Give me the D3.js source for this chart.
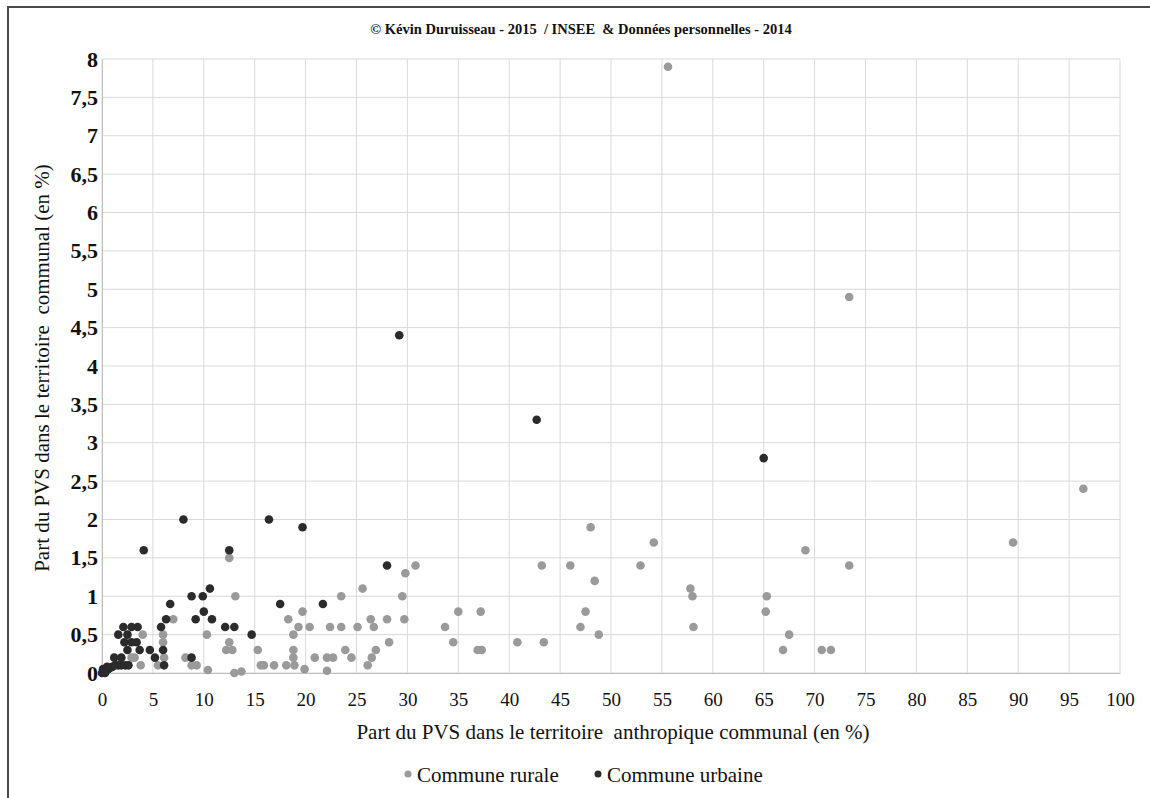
<!DOCTYPE html>
<html>
<head>
<meta charset="utf-8">
<script src="https://cdn.jsdelivr.net/npm/d3@7"></script>
<style>
  body { margin: 0; background: #fff; }
  text { font-family: "Liberation Serif", "Times New Roman", serif; fill: #111; white-space: pre; }
</style>
</head>
<body>
<div id="my_dataviz"></div>
<script>

//-- Données : [part anthropique %, part territoire %]
var communeRurale = [
  [55.6, 7.9], [73.4, 4.9], [96.4, 2.4], [89.5, 1.7], [54.2, 1.7], [69.1, 1.6], [48.0, 1.9],
  [52.9, 1.4], [73.4, 1.4], [57.8, 1.1], [58.0, 1.0], [58.1, 0.6], [65.3, 1.0], [65.2, 0.8],
  [67.5, 0.5], [66.9, 0.3], [70.7, 0.3], [71.6, 0.3],
  [30.8, 1.4], [29.8, 1.3], [43.2, 1.4], [46.0, 1.4], [48.4, 1.2], [25.6, 1.1], [23.5, 1.0],
  [29.5, 1.0], [19.7, 0.8], [35.0, 0.8], [37.2, 0.8], [47.5, 0.8], [26.4, 0.7], [28.0, 0.7],
  [29.7, 0.7], [19.3, 0.6], [20.4, 0.6], [22.4, 0.6], [23.5, 0.6], [25.1, 0.6], [26.7, 0.6],
  [33.7, 0.6], [47.0, 0.6], [48.8, 0.5], [28.2, 0.4], [34.5, 0.4], [40.8, 0.4], [43.4, 0.4],
  [23.9, 0.3], [26.9, 0.3], [36.9, 0.3], [37.3, 0.3], [20.9, 0.2], [22.1, 0.2], [22.7, 0.2],
  [24.5, 0.2], [26.5, 0.2], [26.1, 0.1], [19.9, 0.05], [22.1, 0.03],
  [18.3, 0.7], [18.8, 0.5], [18.8, 0.3], [18.8, 0.2], [15.3, 0.3], [15.6, 0.1], [15.9, 0.1],
  [16.9, 0.1], [18.1, 0.1], [18.9, 0.1], [13.7, 0.02], [13.0, 0.0],
  [12.5, 1.5], [13.1, 1.0], [7.0, 0.7], [10.3, 0.5], [12.5, 0.4], [12.2, 0.3], [12.8, 0.3],
  [6.0, 0.5], [6.0, 0.4], [6.1, 0.2], [8.2, 0.2], [8.8, 0.1], [9.3, 0.1], [10.4, 0.04],
  [4.0, 0.5], [2.9, 0.2], [3.2, 0.2], [3.8, 0.1], [5.5, 0.1]
];

var communeUrbaine = [
  [29.2, 4.4], [42.7, 3.3], [65.0, 2.8], [19.7, 1.9], [28.0, 1.4], [21.7, 0.9], [16.4, 2.0],
  [17.5, 0.9], [14.7, 0.5], [8.0, 2.0], [12.5, 1.6], [4.1, 1.6], [10.6, 1.1], [8.8, 1.0],
  [9.9, 1.0], [6.7, 0.9], [10.0, 0.8], [6.3, 0.7], [9.2, 0.7], [10.8, 0.7], [12.1, 0.6],
  [13.0, 0.6], [5.8, 0.6], [2.1, 0.6], [2.9, 0.6], [3.5, 0.6], [1.6, 0.5], [2.5, 0.5],
  [2.2, 0.4], [2.9, 0.4], [3.4, 0.4], [2.5, 0.3], [3.7, 0.3], [4.7, 0.3], [5.2, 0.2],
  [6.0, 0.3], [6.1, 0.1], [8.8, 0.2], [1.2, 0.2], [1.9, 0.2],
  [0.0, 0.0], [0.2, 0.02], [0.4, 0.03], [0.6, 0.05], [0.8, 0.07], [1.0, 0.08], [1.3, 0.1],
  [1.6, 0.1], [1.9, 0.1], [2.3, 0.1], [2.6, 0.1], [0.1, 0.05], [0.5, 0.08], [0.3, 0.0]
];

var xTicks = d3.range(0, 101, 5);
var yTicks = [0, 0.5, 1, 1.5, 2, 2.5, 3, 3.5, 4, 4.5, 5, 5.5, 6, 6.5, 7, 7.5, 8];
var legendLabels = ['Commune rurale', 'Commune urbaine'];
var titre = '\u00A9 K\u00E9vin Duruisseau - 2015  / INSEE  & Donn\u00E9es personnelles - 2014';
var titreX = 'Part du PVS dans le territoire  anthropique communal (en %)';
var titreY = 'Part du PVS dans le territoire  communal (en %)';

// dimensions
var margin = { top: 59, right: 30, bottom: 125, left: 102 },
  W = 1150, H = 798,
  width = 1120 - margin.left,
  height = 673 - margin.top;

var svg0 = d3.select('#my_dataviz')
  .append('svg')
  .attr('width', W)
  .attr('height', H);

// cadre (haut et gauche)
svg0.append('path')
  .attr('d', 'M8,' + H + 'V7H' + W)
  .attr('fill', 'none')
  .attr('stroke', '#4a4a4a')
  .attr('stroke-width', 2);

svg0.append('text')
  .attr('x', 581)
  .attr('y', 34)
  .attr('text-anchor', 'middle')
  .style('font-size', '14.5px')
  .style('font-weight', 'bold')
  .text(titre);

var svg = svg0.append('g')
  .attr('transform', 'translate(' + margin.left + ',' + margin.top + ')');

var x = d3.scaleLinear().domain([0, 100]).range([0, width]);
var y = d3.scaleLinear().domain([0, 8]).range([height, 0]);

// grille
svg.append('g')
  .selectAll('line')
  .data(xTicks)
  .enter()
  .append('line')
  .attr('x1', d => x(d)).attr('x2', d => x(d))
  .attr('y1', 0).attr('y2', height)
  .attr('stroke', '#d9d9d9');

svg.append('g')
  .selectAll('line')
  .data(yTicks)
  .enter()
  .append('line')
  .attr('x1', 0).attr('x2', width)
  .attr('y1', d => y(d)).attr('y2', d => y(d))
  .attr('stroke', '#d9d9d9');

// axe X
var gx = svg.append('g')
  .attr('transform', 'translate(0,' + height + ')')
  .call(d3.axisBottom(x).tickValues(xTicks).tickSize(0).tickPadding(20).tickFormat(d3.format('d')));
gx.select('.domain').attr('stroke', '#bfbfbf');
gx.selectAll('text')
  .style('font-size', '19px')
  .style('font-family', '"Liberation Serif", serif')
  .attr('fill', '#111');

// axe Y
var gy = svg.append('g')
  .call(d3.axisLeft(y).tickValues(yTicks).tickSize(0).tickPadding(4)
    .tickFormat(d => String(d).replace('.', ',')));
gy.select('.domain').attr('stroke', '#bfbfbf');
gy.selectAll('text')
  .style('font-size', '22px')
  .style('font-weight', 'bold')
  .style('font-family', '"Liberation Serif", serif')
  .attr('fill', '#111');

// titres des axes
svg0.append('text')
  .attr('x', 613)
  .attr('y', 739)
  .attr('text-anchor', 'middle')
  .style('font-size', '21px')
  .text(titreX);

svg0.append('text')
  .attr('transform', 'translate(49,368) rotate(-90)')
  .attr('text-anchor', 'middle')
  .style('font-size', '21px')
  .text(titreY);

// points
svg.append('g')
  .selectAll('circle')
  .data(communeRurale)
  .enter()
  .append('circle')
  .attr('cx', d => x(d[0]))
  .attr('cy', d => y(d[1]))
  .attr('r', 4.3)
  .attr('fill', '#9a9a9a');

svg.append('g')
  .selectAll('circle')
  .data(communeUrbaine)
  .enter()
  .append('circle')
  .attr('cx', d => x(d[0]))
  .attr('cy', d => y(d[1]))
  .attr('r', 4.3)
  .attr('fill', '#2b2b2b');

// légende
var legendPos = [408, 598];
var legendCol = ['#9a9a9a', '#2b2b2b'];
var leg = svg0.append('g')
  .selectAll('g')
  .data(legendLabels)
  .enter()
  .append('g')
  .attr('transform', (d, i) => 'translate(' + legendPos[i] + ',775)');
leg.append('circle')
  .attr('r', 3.5)
  .attr('cy', -1)
  .attr('fill', (d, i) => legendCol[i]);
leg.append('text')
  .attr('x', 9)
  .attr('y', 7)
  .style('font-size', '21px')
  .text(d => d);

</script>
</body>
</html>
